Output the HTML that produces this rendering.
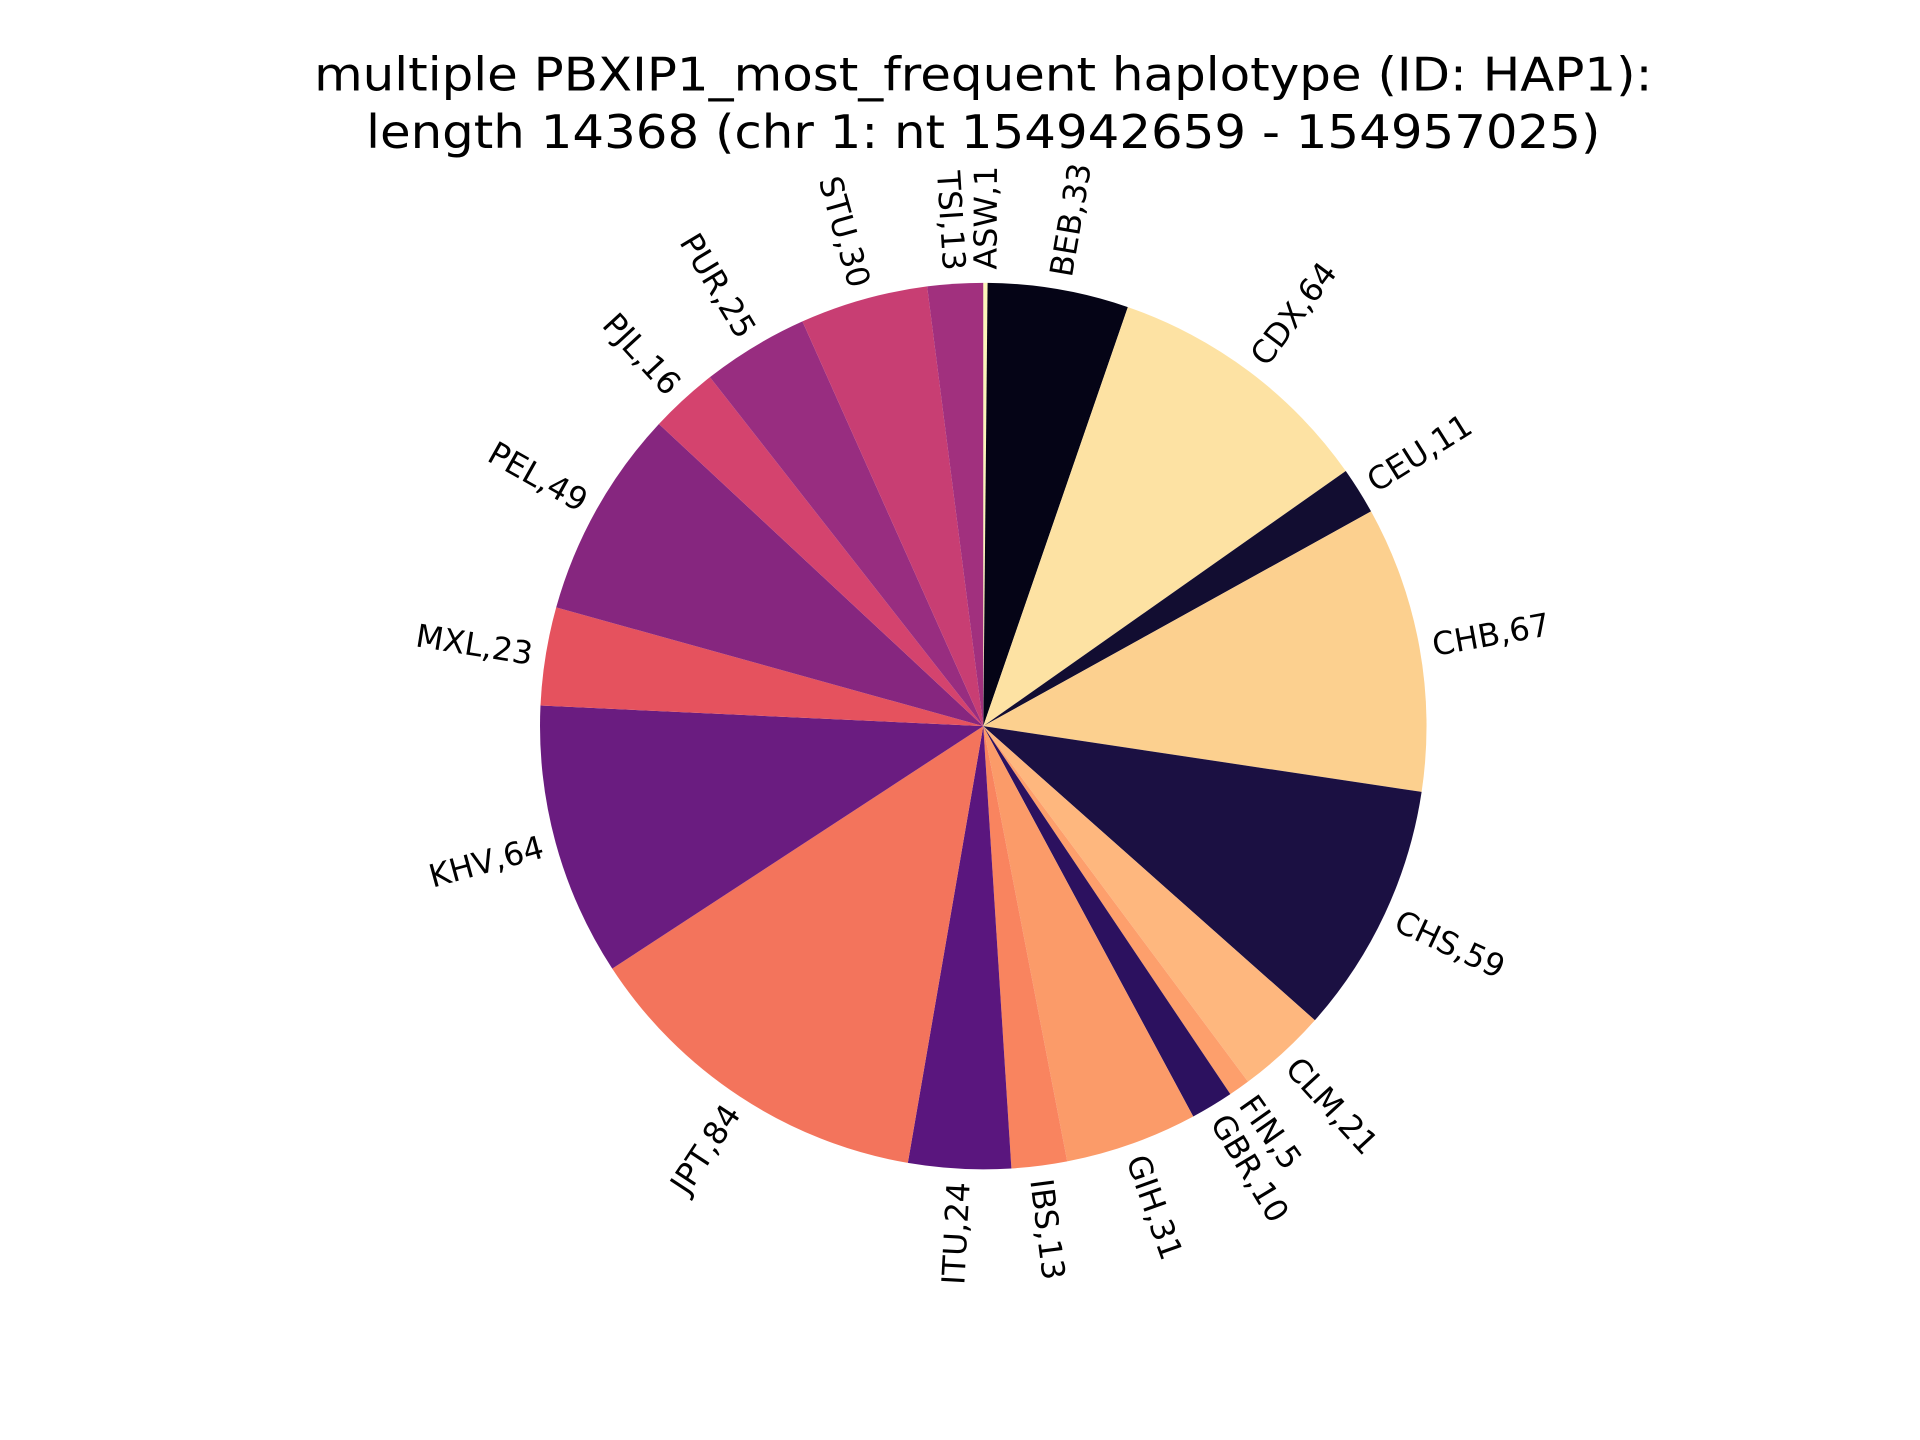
<!DOCTYPE html>
<html><head><meta charset="utf-8"><style>
html,body{margin:0;padding:0;background:#fff;}
svg{display:block;}
text{font-family:"DejaVu Sans","Liberation Sans",sans-serif;fill:#000;}
</style></head><body>
<svg id="chart" width="1920" height="1440" viewBox="0 0 1568 1176" xmlns="http://www.w3.org/2000/svg">
<text x="803" y="74" font-size="38" text-anchor="middle" textLength="1093" lengthAdjust="spacingAndGlyphs">multiple PBXIP1_most_frequent haplotype (ID: HAP1):</text>
<text x="803" y="121" font-size="38" text-anchor="middle" textLength="1008" lengthAdjust="spacingAndGlyphs">length 14368 (chr 1: nt 154942659 - 154957025)</text>
<g id="slices"></g>
<g id="labels"></g>
</svg>
<script>
const categories = ["ASW","BEB","CDX","CEU","CHB","CHS","CLM","FIN","GBR","GIH","IBS","ITU","JPT","KHV","MXL","PEL","PJL","PUR","STU","TSI"];
const values = [1,33,64,11,67,59,21,5,10,31,13,24,84,64,23,49,16,25,30,13];
const colors = ["#fcf6b9","#050416","#fde2a3","#120d31","#fcd08f","#1b1042","#feb77e","#fd9f6c","#2c115f","#fb9b69","#f9845f","#5a167e","#f3745c","#6a1c80","#e5525e","#86267f","#d4436e","#982d80","#c83e73","#a1307e"];
const NS="http://www.w3.org/2000/svg";
const cx=803, cy=593, R=362;
const total=values.reduce((a,b)=>a+b,0);
const gS=document.getElementById('slices'), gL=document.getElementById('labels');
let ang=90;
function pt(a,r){const t=a*Math.PI/180;return [cx+r*Math.cos(t), cy-r*Math.sin(t)];}
values.forEach((v,i)=>{
  const sweep=360*v/total;
  const a0=ang, a1=ang-sweep;
  const p0=pt(a0,R), p1=pt(a1,R);
  const large=sweep>180?1:0;
  const path=document.createElementNS(NS,'path');
  path.setAttribute('d',`M${cx},${cy} L${p0[0]},${p0[1]} A${R},${R} 0 ${large} 1 ${p1[0]},${p1[1]} Z`);
  path.setAttribute('fill',colors[i]);
  
  
  gS.appendChild(path);
  const mid=(a0+a1)/2;
  const lp=pt(mid,R*1.03);
  let rot=((mid%360)+360)%360;
  if(rot>90&&rot<=270) rot-=180;
  const t=document.createElementNS(NS,'text');
  t.setAttribute('x',lp[0]);t.setAttribute('y',lp[1]);
  t.setAttribute('font-size','26');
  t.setAttribute('text-anchor',(lp[0]-cx)>0?'start':'end');
  t.setAttribute('dominant-baseline','central');
  t.setAttribute('transform',`rotate(${-rot} ${lp[0]} ${lp[1]})`);
  t.textContent=categories[i]+','+v;
  
  
  gL.appendChild(t);
  ang=a1;
});
</script>
</body></html>
